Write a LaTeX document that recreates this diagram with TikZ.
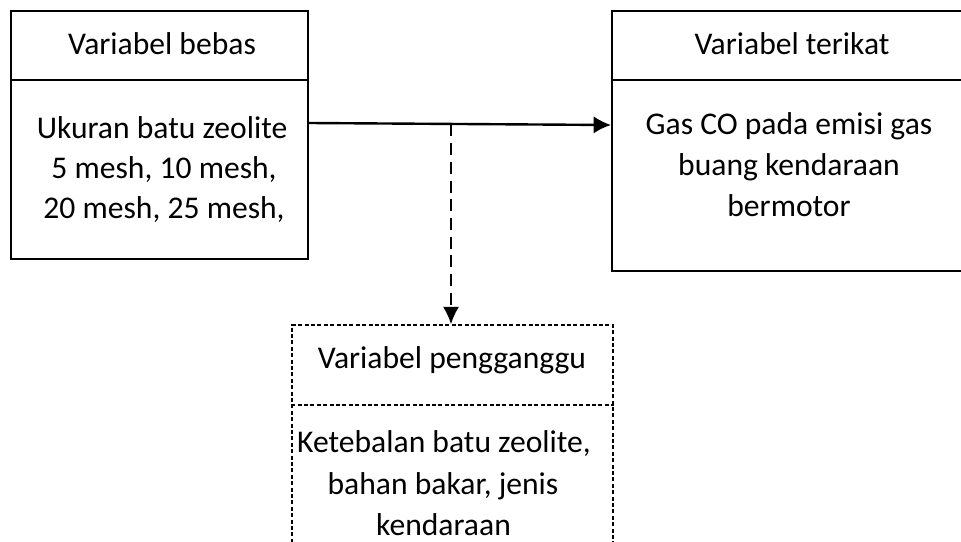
\documentclass[tikz,border=0pt]{standalone}
\usepackage{fontspec}
\setmainfont{Carlito}
\usetikzlibrary{arrows.meta,fit}
\begin{document}
\begin{tikzpicture}[x=0.75pt,y=-0.75pt,
  solidbox/.style={draw,line width=1.5pt,inner sep=0pt},
  dashbox/.style={draw,line width=1.1pt,dash pattern=on 3pt off 1.8pt,inner sep=0pt},
  divsolid/.style={line width=1.5pt},
  divdash/.style={line width=1.1pt,dash pattern=on 3pt off 1.8pt},
  mainarrow/.style={line width=1.8pt,-{Latex[length=13pt,width=13pt]}},
  dasharrow/.style={line width=1.5pt,dash pattern=on 9pt off 5pt,-{Latex[length=13pt,width=12pt]}},
  txt/.style={anchor=base,font=\fontsize{23.7}{30}\selectfont,inner sep=0pt}]
\useasboundingbox (0,0) rectangle (961,542);
\clip (0,0) rectangle (961,542);
% boxes
\node[solidbox,fit={(11,10.7)(308,259)}] (bebas) {};
\node[solidbox,fit={(612,10.7)(968,271)}] (terikat) {};
\node[dashbox,fit={(292,325)(613,570)}] (ganggu) {};
% dividers
\draw[divsolid] (bebas.west |- 0,80) -- (bebas.east |- 0,80);
\draw[divsolid] (terikat.west |- 0,80.5) -- (terikat.east |- 0,80.5);
\draw[divdash] (ganggu.west |- 0,405) -- (ganggu.east |- 0,405);
% texts
\node[txt] (bh) at (162,55) {Variabel bebas};
\node[txt] (b1) at (162,138) {Ukuran batu zeolite};
\node[txt] (b2) at (164,178) {5 mesh, 10 mesh,};
\node[txt] (b3) at (164,218) {20 mesh, 25 mesh,};
\node[txt] (th) at (792,55) {Variabel terikat};
\node[txt] (t1) at (789,135) {Gas CO pada emisi gas};
\node[txt] (t2) at (789,175.5) {buang kendaraan};
\node[txt] (t3) at (789,216) {bermotor};
\node[txt] (gh) at (452,368) {Variabel pengganggu};
\node[txt] (g1) at (444,452) {Ketebalan batu zeolite,};
\node[txt] (g2) at (443,494) {bahan bakar, jenis};
\node[txt] (g3) at (443.5,535) {kendaraan};
% connectors
\draw[mainarrow] (bebas.east |- 0,123) -- (terikat.west |- 0,125);
\coordinate (j) at (451,124.5);
\draw[dasharrow] (j) -- (j |- ganggu.north);
\end{tikzpicture}
\end{document}
